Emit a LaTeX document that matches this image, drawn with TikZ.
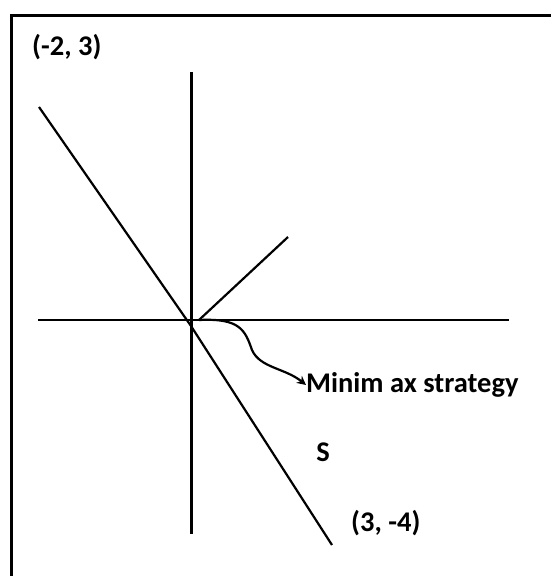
\documentclass[tikz,border=0pt]{standalone}
\usepackage{fontspec}
\setmainfont{Carlito}
\usetikzlibrary{arrows.meta}
\begin{document}
\begin{tikzpicture}[x=1pt,y=-1pt,
  axis/.style={line width=2.2pt},
  lbl/.style={font=\fontsize{28.5}{30}\selectfont\bfseries, inner sep=0pt}]
\useasboundingbox (0,0) rectangle (551,576);
\fill[white] (0,0) rectangle (551,576);
% frame (only top and left visible)
\draw[line width=3pt] (11,578) -- (11,15) -- (553,15);
% axes
\coordinate (vt) at (191.5,72);
\coordinate (vb) at (191.5,534);
\coordinate (hl) at (38,320);
\coordinate (hr) at (509,320);
\draw[axis] (vt) -- (vb);
\draw[axis] (hl) -- (hr);
% diagonal line
\coordinate (dtop) at (39,107);
\coordinate (dmid) at (191,326);
\coordinate (dbot) at (332,545);
\draw[axis] (dtop) -- (dmid) -- (dbot);
% ray
\coordinate (o) at (199,320);
\coordinate (rend) at (288,237);
\draw[axis] (o) -- (rend);
% labels
\node[lbl, anchor=west] (lab1) at (32,47) {(-2, 3)};
\node[lbl, anchor=west] (lab2) at (306,385) {Minim ax strategy};
\node[lbl] (labS) at (323,452) {S};
\node[lbl, anchor=west] (lab3) at (351,523) {(3, -4)};
% curved arrow
\draw[axis, -{Stealth[length=9pt,width=9pt]}] (o) .. controls (240,318) and (245,330) .. (252,350)
  .. controls (260,368) and (285,368) .. (lab2.west);
\end{tikzpicture}
\end{document}
